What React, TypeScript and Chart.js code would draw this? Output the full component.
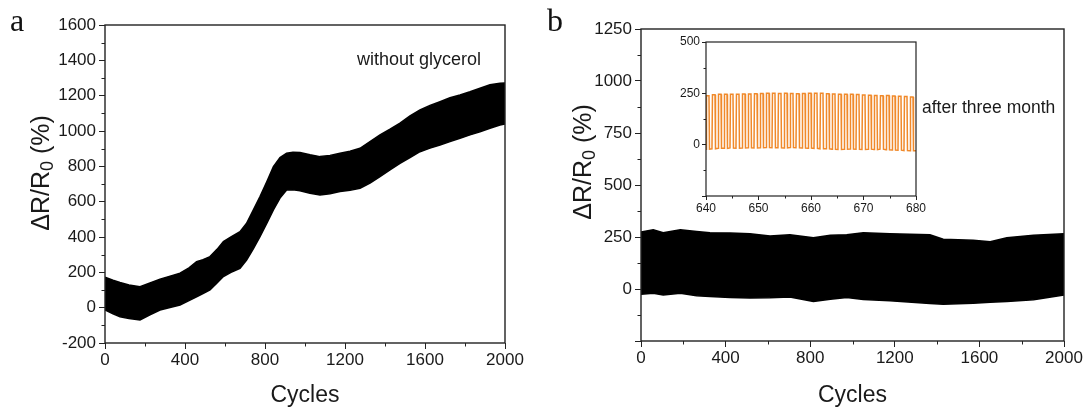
import React, { useEffect, useRef } from 'react';
import { Chart, registerables } from 'chart.js';

Chart.register(...registerables);

const SANS = '"Liberation Sans", Arial, sans-serif';
const SERIF = '"Liberation Serif", "Times New Roman", serif';
const INK = '#222222';
const ORANGE = '#F0892A';

// ---- Panel a: envelope (upper / lower) of the cyclic ΔR/R0 signal, without glycerol
const cyclesA = [0, 40, 75, 120, 175, 225, 275, 330, 375, 420, 458, 490, 525, 560, 592, 630, 675, 708, 740, 775, 810, 842, 875, 908, 940, 975, 1025, 1075, 1125, 1175, 1225, 1275, 1325, 1375, 1425, 1475, 1525, 1575, 1625, 1675, 1725, 1775, 1825, 1875, 1925, 1975, 2000];
const upperA = [172, 155, 142, 128, 119, 140, 161, 180, 195, 225, 261, 272, 289, 330, 374, 400, 430, 478, 550, 629, 715, 798, 850, 874, 880, 878, 865, 855, 862, 874, 885, 902, 940, 978, 1010, 1044, 1085, 1119, 1145, 1166, 1188, 1204, 1222, 1242, 1262, 1270, 1272];
const lowerA = [-13, -35, -51, -62, -69, -40, -13, 2, 15, 40, 62, 80, 100, 140, 176, 200, 223, 270, 330, 402, 480, 553, 620, 666, 668, 662, 648, 638, 645, 657, 664, 676, 705, 742, 780, 817, 850, 883, 903, 921, 940, 959, 978, 996, 1016, 1034, 1040];

// ---- Panel b: envelope of the signal after three months
const cyclesB = [0, 58, 105, 186, 263, 326, 421, 515, 610, 704, 815, 895, 973, 1051, 1177, 1366, 1429, 1571, 1651, 1730, 1856, 2000];
const upperB = [274, 285, 271, 285, 277, 271, 269, 266, 255, 261, 246, 258, 261, 271, 266, 261, 239, 234, 227, 246, 258, 266];
const lowerB = [-25, -21, -29, -21, -32, -36, -41, -43, -42, -38, -60, -49, -41, -50, -56, -70, -73, -68, -64, -60, -52, -29];

// ---- Inset: individual cycles between 640 and 680
const insetStart = [640.0, 641.14, 642.29, 643.43, 644.57, 645.71, 646.86, 648.0, 649.14, 650.29, 651.43, 652.57, 653.71, 654.86, 656.0, 657.14, 658.29, 659.43, 660.57, 661.71, 662.86, 664.0, 665.14, 666.29, 667.43, 668.57, 669.71, 670.86, 672.0, 673.14, 674.29, 675.43, 676.57, 677.71, 678.86];
const insetHigh = [238, 243, 245, 245, 246, 246, 247, 247, 248, 249, 250, 250, 249, 250, 249, 248, 249, 250, 251, 250, 248, 247, 246, 246, 245, 244, 242, 241, 240, 238, 240, 237, 236, 234, 232];
const insetLow = [-22, -20, -18, -18, -16, -17, -16, -15, -16, -15, -14, -15, -15, -16, -14, -15, -16, -17, -18, -20, -20, -22, -23, -22, -21, -22, -23, -22, -24, -22, -25, -26, -27, -29, -30];

// ---- Tick values
const xTicksMain = [0, 400, 800, 1200, 1600, 2000];
const xMinorMain = [200, 600, 1000, 1400, 1800];
const yTicksA = [-200, 0, 200, 400, 600, 800, 1000, 1200, 1400, 1600];
const yMinorA = [-100, 100, 300, 500, 700, 900, 1100, 1300, 1500];
const yTicksB = [-250, 0, 250, 500, 750, 1000, 1250];
const yMinorB = [-125, 125, 375, 625, 875, 1125];
const xTicksInset = [640, 650, 660, 670, 680];
const xMinorInset = [645, 655, 665, 675];
const yTicksInset = [-250, 0, 250, 500];
const yMinorInset = [-125, 125, 375];

const framePlugin = {
  id: 'frameTicks',
  afterDatasetsDraw(chart: any, _a: any, opts: any) {
    const { ctx, chartArea } = chart;
    const { left, right, top, bottom } = chartArea;
    ctx.save();
    ctx.strokeStyle = INK;
    ctx.lineWidth = opts.width;
    ctx.strokeRect(left, top, right - left, bottom - top);
    ctx.lineWidth = 1;
    const xs = chart.scales.x;
    const ys = chart.scales.y;
    ctx.beginPath();
    (opts.xMinor || []).forEach((v: number) => {
      const p = Math.round(xs.getPixelForValue(v)) + 0.5;
      ctx.moveTo(p, bottom);
      ctx.lineTo(p, bottom + opts.len);
    });
    (opts.yMinor || []).forEach((v: number) => {
      const p = Math.round(ys.getPixelForValue(v)) + 0.5;
      ctx.moveTo(left, p);
      ctx.lineTo(left - opts.len, p);
    });
    ctx.stroke();
    ctx.restore();
  },
};

function buildConfig(p: any) {
  return {
    type: 'line',
    data: { datasets: p.datasets },
    options: {
      animation: false,
      responsive: false,
      events: [],
      layout: { padding: p.padding },
      plugins: {
        legend: { display: false },
        tooltip: { enabled: false },
        frameTicks: { width: p.frameWidth, len: p.minorLen, xMinor: p.xMinor, yMinor: p.yMinor },
      },
      elements: { point: { radius: 0 } },
      scales: {
        x: {
          type: 'linear',
          min: p.xMin,
          max: p.xMax,
          afterBuildTicks: (s: any) => { s.ticks = p.xTicks.map((v: number) => ({ value: v })); },
          afterFit: (s: any) => { s.height = p.xHeight; },
          grid: { drawOnChartArea: false, drawTicks: true, tickLength: p.tickLen, tickColor: INK, tickWidth: 1 },
          border: { display: false },
          ticks: {
            color: '#1a1a1a',
            font: { family: SANS, size: p.tickSize },
            padding: p.xPad,
            maxRotation: 0,
            autoSkip: false,
            callback: (v: number) => String(v),
          },
          title: p.xTitle
            ? { display: true, text: p.xTitle, color: '#1a1a1a', font: { family: SANS, size: 23 }, padding: { top: 0, bottom: 1 } }
            : { display: false },
        },
        y: {
          type: 'linear',
          min: p.yMin,
          max: p.yMax,
          afterBuildTicks: (s: any) => { s.ticks = p.yTicks.map((v: number) => ({ value: v })); },
          afterFit: (s: any) => { s.width = p.yWidth; },
          grid: { drawOnChartArea: false, drawTicks: true, tickLength: p.tickLen, tickColor: INK, tickWidth: 1 },
          border: { display: false },
          ticks: {
            color: '#1a1a1a',
            font: { family: SANS, size: p.tickSize },
            padding: p.yPad,
            autoSkip: false,
            callback: (v: number) => (p.hideY.includes(v) ? '' : String(v)),
          },
        },
      },
    },
    plugins: [framePlugin],
  };
}

function band(xs: number[], up: number[], lo: number[]) {
  return [
    { data: xs.map((x, i) => ({ x, y: up[i] })), borderColor: '#000', borderWidth: 1.5, fill: false, tension: 0 },
    { data: xs.map((x, i) => ({ x, y: lo[i] })), borderColor: '#000', borderWidth: 1.5, backgroundColor: '#000', fill: '-1', tension: 0 },
  ];
}

function insetData() {
  const pts: { x: number; y: number }[] = [];
  insetStart.forEach((s, i) => {
    const next = i + 1 < insetStart.length ? insetStart[i + 1] : 680;
    const per = next - s;
    pts.push({ x: s, y: insetLow[i] });
    pts.push({ x: s + per * 0.08, y: insetHigh[i] });
    pts.push({ x: s + per * 0.5, y: insetHigh[i] });
    pts.push({ x: s + per * 0.58, y: insetLow[i] });
  });
  pts.push({ x: 680, y: insetLow[insetLow.length - 1] });
  return [{ data: pts, borderColor: ORANGE, borderWidth: 1.5, fill: false, tension: 0 }];
}

function ChartBox({ left, top, width, height, cfg }: any) {
  const ref = useRef<HTMLCanvasElement>(null);
  useEffect(() => {
    const chart = new Chart(ref.current as HTMLCanvasElement, cfg() as any);
    return () => chart.destroy();
  }, []);
  return (
    <canvas ref={ref} width={width} height={height} style={{ position: 'absolute', left, top, width, height }} />
  );
}

const yTitleStyle = (cx: number, cy: number): React.CSSProperties => ({
  position: 'absolute',
  left: cx,
  top: cy,
  transform: 'translate(-50%, -50%) rotate(-90deg)',
  font: `25px ${SANS}`,
  color: '#1a1a1a',
  whiteSpace: 'nowrap',
  lineHeight: '25px',
});

function YTitle({ cx, cy }: { cx: number; cy: number }) {
  return (
    <div style={yTitleStyle(cx, cy)}>
      ΔR/R<sub style={{ fontSize: '0.72em', verticalAlign: '-0.25em', lineHeight: 0 }}>0</sub> (%)
    </div>
  );
}

export default function App() {
  const cfgA = () =>
    buildConfig({
      datasets: band(cyclesA, upperA, lowerA),
      padding: { left: 0, top: 25, right: 35, bottom: 0 },
      xMin: 0, xMax: 2000, yMin: -200, yMax: 1600,
      xTicks: xTicksMain, yTicks: yTicksA, xMinor: xMinorMain, yMinor: yMinorA,
      yWidth: 105, xHeight: 67, tickLen: 6, minorLen: 3.5, tickSize: 17, xPad: 1, yPad: 3,
      frameWidth: 1.4, xTitle: 'Cycles', hideY: [],
    });
  const cfgB = () =>
    buildConfig({
      datasets: band(cyclesB, upperB, lowerB),
      padding: { left: 0, top: 29, right: 23, bottom: 0 },
      xMin: 0, xMax: 2000, yMin: -250, yMax: 1250,
      xTicks: xTicksMain, yTicks: yTicksB, xMinor: xMinorMain, yMinor: yMinorB,
      yWidth: 101, xHeight: 69, tickLen: 6, minorLen: 3.5, tickSize: 17, xPad: 1, yPad: 3,
      frameWidth: 1.4, xTitle: 'Cycles', hideY: [-250],
    });
  const cfgI = () =>
    buildConfig({
      datasets: insetData(),
      padding: { left: 0, top: 12, right: 14, bottom: 0 },
      xMin: 640, xMax: 680, yMin: -250, yMax: 500,
      xTicks: xTicksInset, yTicks: yTicksInset, xMinor: xMinorInset, yMinor: yMinorInset,
      yWidth: 46, xHeight: 29, tickLen: 4, minorLen: 2.5, tickSize: 12, xPad: 1, yPad: 2,
      frameWidth: 1.2, xTitle: null, hideY: [-250],
    });

  return (
    <div style={{ position: 'absolute', left: 0, top: 0, width: 1087, height: 410, background: '#fff', overflow: 'hidden' }}>
      <ChartBox left={0} top={0} width={540} height={410} cfg={cfgA} />
      <ChartBox left={540} top={0} width={547} height={410} cfg={cfgB} />
      <ChartBox left={660} top={30} width={270} height={195} cfg={cfgI} />
      <YTitle cx={40} cy={173} />
      <YTitle cx={582} cy={162} />
      <div style={{ position: 'absolute', left: 10, top: 4, font: `32px ${SERIF}`, lineHeight: '32px', color: '#111' }}>a</div>
      <div style={{ position: 'absolute', left: 547, top: 4, font: `32px ${SERIF}`, lineHeight: '32px', color: '#111' }}>b</div>
      <div style={{ position: 'absolute', left: 357, top: 50, font: `18px ${SANS}`, lineHeight: '18px', color: '#1a1a1a', whiteSpace: 'nowrap' }}>
        without glycerol
      </div>
      <div style={{ position: 'absolute', left: 922, top: 98, font: `17.5px ${SANS}`, lineHeight: '18px', color: '#1a1a1a', whiteSpace: 'nowrap' }}>
        after three month
      </div>
    </div>
  );
}
